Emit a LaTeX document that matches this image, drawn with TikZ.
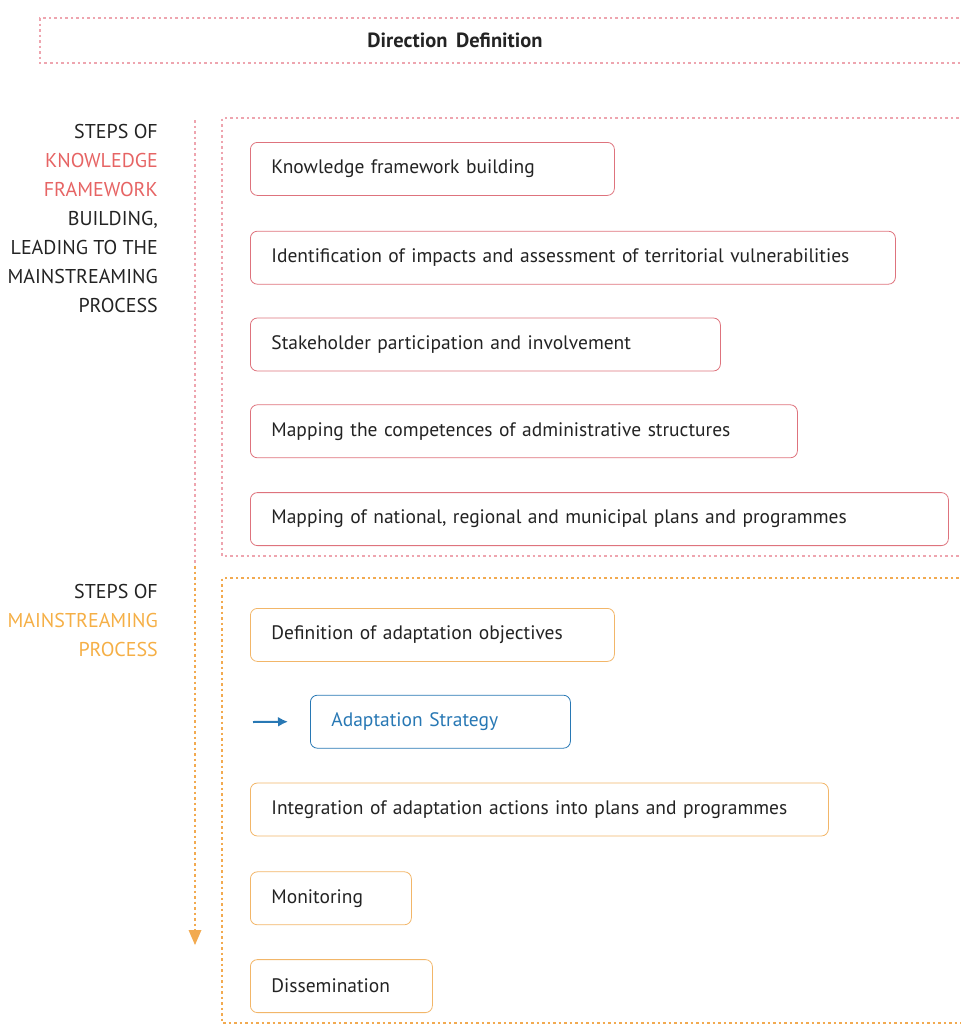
\documentclass[tikz,border=0pt]{standalone}
\usepackage{fontspec}
\setmainfont{PT Sans}
\usepackage{tikz}
\usetikzlibrary{positioning}
\usetikzlibrary{arrows.meta}

\definecolor{pinkline}{RGB}{238,165,175}
\definecolor{redbox}{RGB}{222,115,125}
\definecolor{orangebox}{RGB}{242,182,105}
\definecolor{orangeline}{RGB}{242,170,80}
\definecolor{redlabel}{RGB}{230,100,100}
\definecolor{orangelabel}{RGB}{245,175,70}
\definecolor{bluebox}{RGB}{40,120,180}
\definecolor{boxtext}{RGB}{35,35,35}

\begin{document}
\begin{tikzpicture}[x=1pt, y=-1pt,
                          groupbox/.style={dash pattern=on 2.5pt off 3pt, line width=1.1pt},
                          stepbox/.style={rectangle, draw, rounded corners=7pt, thick, minimum height=53pt, inner xsep=21pt, align=left, anchor=north west, text=boxtext, font=\fontsize{19.5}{22}\selectfont},
                          redstep/.style={stepbox, draw=redbox},
                          orangestep/.style={stepbox, draw=orangebox},
                          bluestep/.style={stepbox, draw=bluebox, text=bluebox},
                          sidelabel/.style={align=right, anchor=north east, inner sep=0pt, text=boxtext, font=\fontsize{20}{29}\selectfont},
                      ]
                      \useasboundingbox (0,0) rectangle (961,1026);

                      % Frames
                      \draw[groupbox, pinkline] (975,18) -- (40,18) -- (40,63) -- (975,63);
                      \draw[groupbox, pinkline] (975,118) -- (222,118) -- (222,556) -- (975,556);
                      \draw[groupbox, orangeline] (975,578) -- (222,578) -- (222,1023) -- (975,1023);

                      % Nodes
                      \node[font=\bfseries\fontsize{20.5}{22}\selectfont, text=boxtext] (direction) at (455,40) {Direction\, Definition};

                      \node[sidelabel] (label_know) at (158,124) {STEPS OF\\\textcolor{redlabel}{KNOWLEDGE}\\\textcolor{redlabel}{FRAMEWORK}\\BUILDING,\\LEADING TO THE\\MAINSTREAMING\\PROCESS};
                      \node[sidelabel] (label_main) at (158,584) {STEPS OF\\\textcolor{orangelabel}{MAINSTREAMING}\\\textcolor{orangelabel}{PROCESS}};

                      \node[redstep, text width=322pt]        (know_1)     at (250,142)        {Knowledge framework building};
                      \node[redstep, text width=603pt]        (know_2)     [below=35pt of know_1.south west, anchor=north west]    {Identification of impacts and assessment of territorial vulnerabilities};
                      \node[redstep, text width=428pt]        (know_3)     [below=33pt of know_2.south west, anchor=north west]    {Stakeholder participation and involvement};
                      \node[redstep, text width=505pt]        (know_4)     [below=33pt of know_3.south west, anchor=north west]    {Mapping the competences of administrative structures};
                      \node[redstep, text width=656pt]        (know_5)     [below=34pt of know_4.south west, anchor=north west]    {Mapping of national, regional and municipal plans and programmes};

                      \node[orangestep, text width=322pt]     (main_1)     at (250,608)        {Definition of adaptation objectives};
                      \node[bluestep, text width=218pt]       (strategy)   [below=33pt of main_1.south west, anchor=north west, xshift=60pt]   {Adaptation Strategy};
                      \node[orangestep, text width=536pt]     (main_2)     [below=34pt of strategy.south west, anchor=north west, xshift=-60pt] {Integration of adaptation actions into plans and programmes};
                      \node[orangestep, text width=119pt]     (main_3)     [below=35pt of main_2.south west, anchor=north west]    {Monitoring};
                      \node[orangestep, text width=140pt]     (main_4)     [below=34pt of main_3.south west, anchor=north west]    {Dissemination};

                      \coordinate (flow_top) at (195,120);
                      \coordinate (flow_mid) at (195,566);
                      \coordinate (flow_end) at (195,946);
                      \coordinate (strategy_in) at (253,722);

                      %Lines
                      \draw[groupbox, pinkline] (flow_top) -- (flow_mid);
                      \draw[groupbox, orangeline, shorten >=1pt, -{Triangle[width=13pt,length=15pt,fill=orangeline,line width=0pt]}] (flow_mid) -- (flow_end);
                      \draw[bluebox, line width=2pt, -{Latex[length=10pt,width=10pt]}] (strategy_in) -- ([xshift=-22pt]strategy.west);
                  \end{tikzpicture}
\end{document}
